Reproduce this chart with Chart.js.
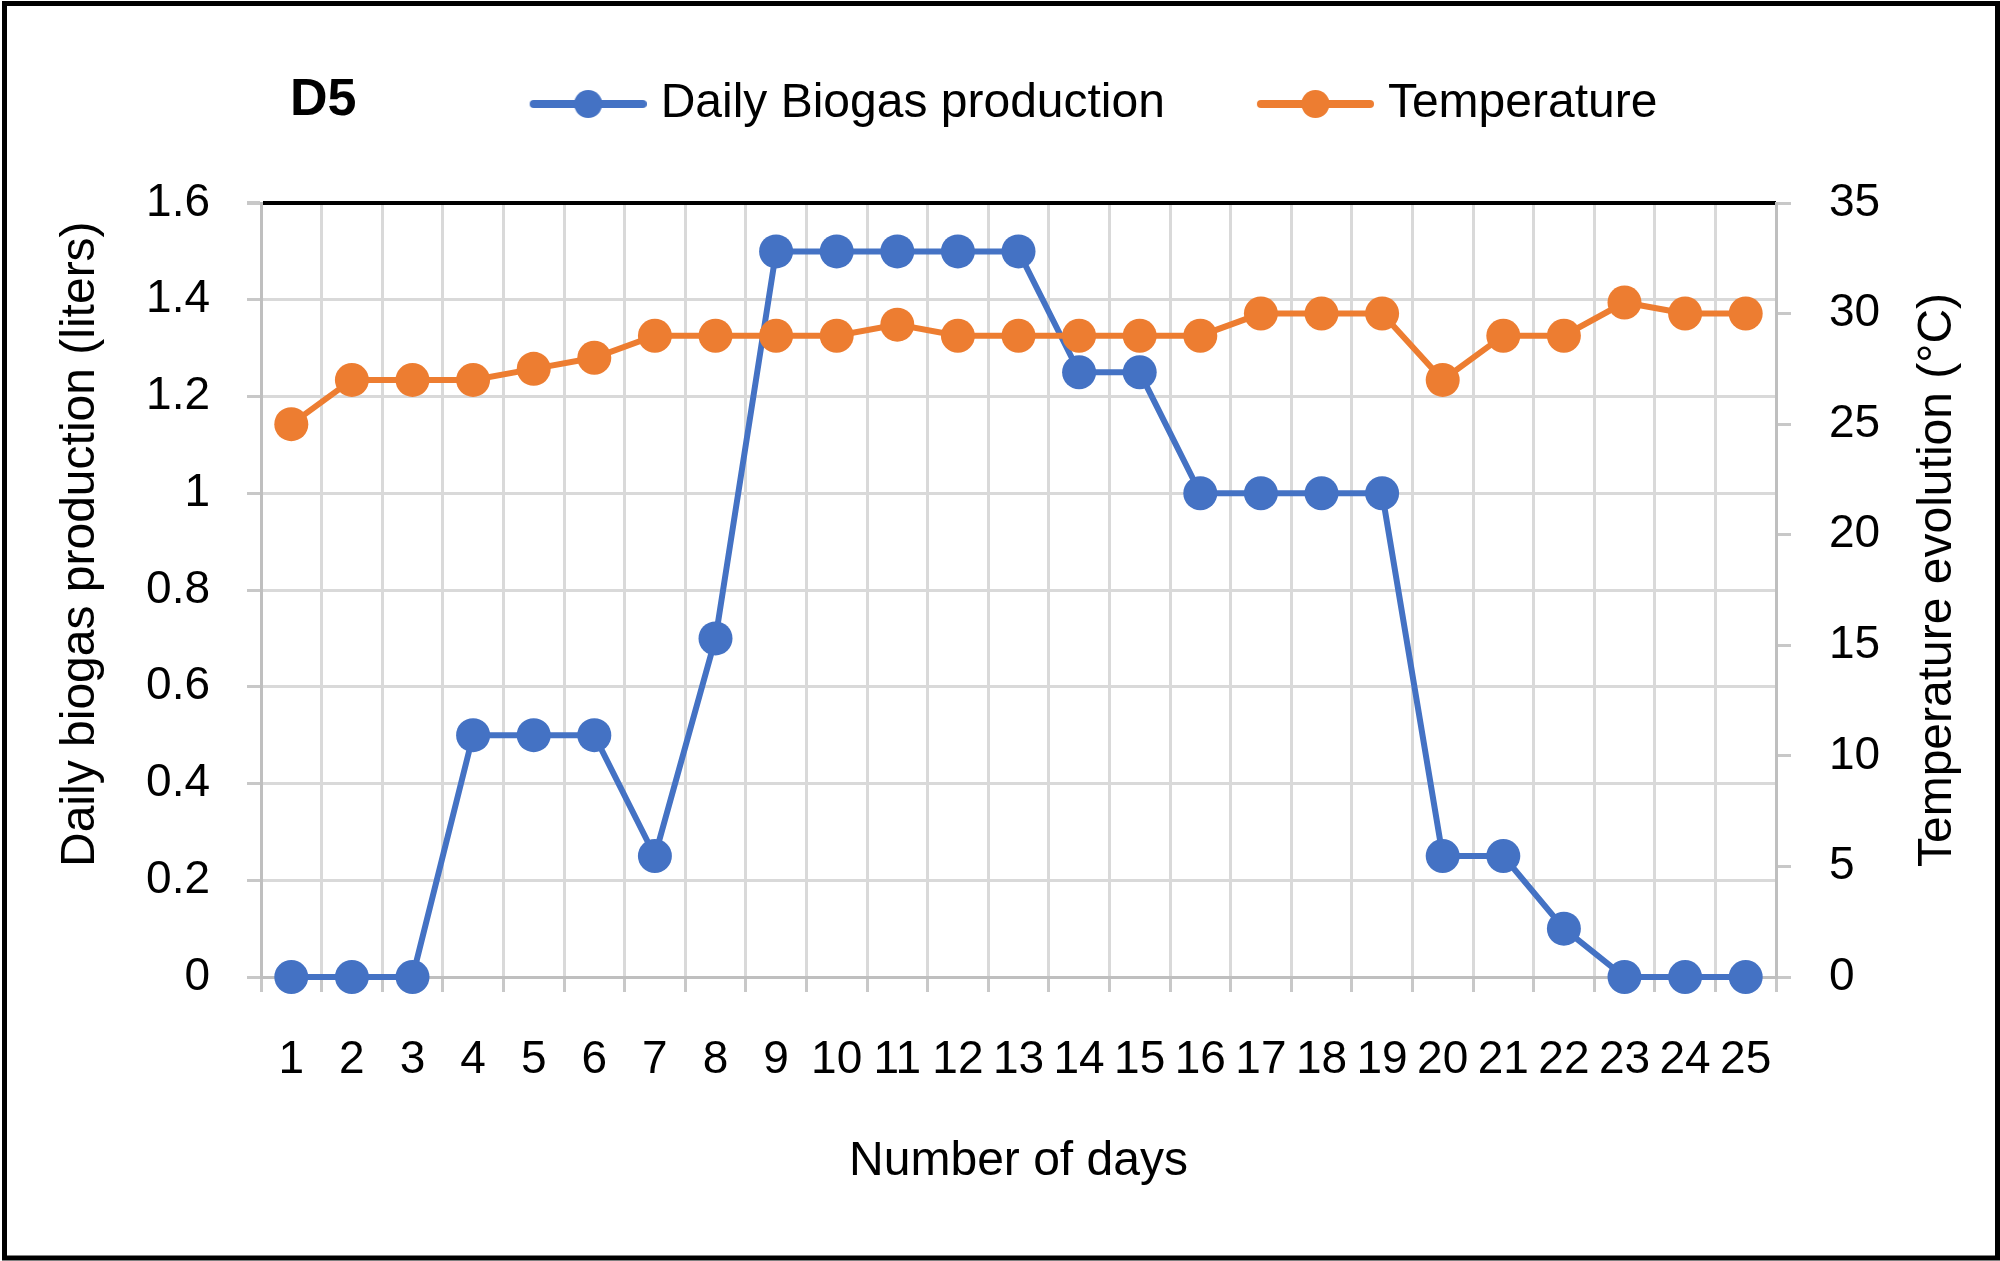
<!DOCTYPE html>
<html lang="en">
<head>
  <meta charset="UTF-8">
  <title>D5 - Daily biogas production and temperature</title>
  <script src="https://cdn.jsdelivr.net/npm/chart.js"></script>
  <style>
    html, body { margin: 0; padding: 0; background: #fff; }
    canvas { display: block; }
  </style>
</head>
<body>
  <canvas id="chart" width="2000" height="1261"></canvas>

  <script>
    // data
    const days = ['1','2','3','4','5','6','7','8','9','10','11','12','13','14','15','16','17','18','19','20','21','22','23','24','25'];
    const biogas = [0, 0, 0, 0.5, 0.5, 0.5, 0.25, 0.7, 1.5, 1.5, 1.5, 1.5, 1.5, 1.25, 1.25, 1, 1, 1, 1, 0.25, 0.25, 0.1, 0, 0, 0];
    const temperature = [25, 27, 27, 27, 27.5, 28, 29, 29, 29, 29, 29.5, 29, 29, 29, 29, 29, 30, 30, 30, 27, 29, 29, 30.5, 30, 30];
    const biogasTicks = [0, 0.2, 0.4, 0.6, 0.8, 1, 1.2, 1.4, 1.6];
    const tempTicks = [0, 5, 10, 15, 20, 25, 30, 35];

    const BLUE = '#4472C4';
    const ORANGE = '#ED7D31';
    const FONT = "'Liberation Sans', Arial, sans-serif";

    Chart.defaults.font.family = FONT;
    Chart.defaults.color = '#000';

    // line + dot swatch used in the legend (Excel style)
    function legendMark(color) {
      const c = document.createElement('canvas');
      c.width = 142;
      c.height = 40;
      const g = c.getContext('2d');
      g.strokeStyle = color;
      g.lineWidth = 8;
      g.lineCap = 'round';
      g.beginPath();
      g.moveTo(29, 20);
      g.lineTo(138, 20);
      g.stroke();
      g.fillStyle = color;
      g.beginPath();
      g.arc(83.5, 20, 14, 0, Math.PI * 2);
      g.fill();
      return c;
    }
    const marks = [legendMark(BLUE), legendMark(ORANGE)];

    // panel label, axis titles (both read bottom-to-top) and outer frame
    const frame = {
      id: 'frame',
      afterInit(chart) {
        const lg = chart.legend;
        const fit = lg.fit;
        lg.fit = function () {
          fit.call(this);
          this.height = 203;
        };
      },
      afterLayout(chart) {
        chart.legend.left += 172;
        chart.legend.top += 3;
      },
      afterDraw(chart) {
        const { ctx, chartArea } = chart;
        ctx.save();
        ctx.fillStyle = '#000';
        ctx.textBaseline = 'middle';
        ctx.textAlign = 'left';
        ctx.font = 'bold 52px ' + FONT;
        ctx.fillText('D5', 290, 101);

        ctx.font = '48px ' + FONT;
        [
          [chartArea.left - 180, 'Daily biogas production (liters)'],
          [chartArea.right + 162, 'Temperature evolution (°C)']
        ].forEach(([x, text]) => {
          ctx.save();
          ctx.translate(x, chartArea.bottom - 110);
          ctx.rotate(-Math.PI / 2);
          ctx.fillText(text, 0, 0);
          ctx.restore();
        });

        ctx.lineWidth = 5;
        ctx.strokeStyle = '#000';
        ctx.strokeRect(4.5, 3.5, 1993, 1254.5);
        ctx.restore();
      }
    };

    const isTop = c => c.tick && c.tick.value === biogasTicks[biogasTicks.length - 1];

    new Chart(document.getElementById('chart'), {
      type: 'line',
      data: {
        labels: days,
        datasets: [
          {
            label: 'Daily Biogas production',
            data: biogas,
            yAxisID: 'y',
            borderColor: BLUE,
            backgroundColor: BLUE,
            borderWidth: 6,
            pointRadius: 17,
            pointHoverRadius: 17,
            pointBorderWidth: 0,
            clip: false,
            order: 1
          },
          {
            label: 'Temperature',
            data: temperature,
            yAxisID: 'y1',
            borderColor: ORANGE,
            backgroundColor: ORANGE,
            borderWidth: 6,
            pointRadius: 17,
            pointHoverRadius: 17,
            pointBorderWidth: 0,
            clip: false,
            order: 0
          }
        ]
      },
      options: {
        responsive: false,
        animation: false,
        devicePixelRatio: 1,
        layout: { padding: 0 },
        plugins: {
          tooltip: { enabled: false },
          legend: {
            position: 'top',
            labels: {
              usePointStyle: true,
              pointStyleWidth: 122,
              padding: 77,
              color: '#000',
              font: { size: 48 },
              generateLabels: chart => chart.data.datasets.map((ds, i) => ({
                text: ds.label,
                datasetIndex: i,
                pointStyle: marks[i],
                fillStyle: ds.borderColor,
                strokeStyle: ds.borderColor,
                lineWidth: 0,
                hidden: false,
                fontColor: '#000'
              }))
            }
          }
        },
        scales: {
          x: {
            offset: true,
            grid: { offset: true, color: '#d9d9d9', lineWidth: 3, tickLength: 15, tickColor: '#c8c8c8' },
            border: { color: '#bfbfbf', width: 3 },
            ticks: { font: { size: 46 }, color: '#000', padding: 41, maxRotation: 0, minRotation: 0, autoSkip: false },
            title: { display: true, text: 'Number of days', font: { size: 48 }, color: '#000', padding: { top: 0, bottom: 70 } },
            afterFit: s => { s.height = 284; }
          },
          y: {
            position: 'left',
            min: 0,
            max: 1.6,
            afterBuildTicks: s => { s.ticks = biogasTicks.map(v => ({ value: v })); },
            grid: {
              color: c => isTop(c) ? '#000' : '#d9d9d9',
              lineWidth: c => isTop(c) ? 4 : 3,
              tickLength: 14,
              tickColor: '#c8c8c8'
            },
            border: { color: '#bfbfbf', width: 3 },
            ticks: { font: { size: 46 }, color: '#000', padding: 37, callback: v => String(v) },
            afterFit: s => { s.width = 261; }
          },
          y1: {
            position: 'right',
            min: 0,
            max: 35,
            afterBuildTicks: s => { s.ticks = tempTicks.map(v => ({ value: v })); },
            grid: { drawOnChartArea: false, tickLength: 15, color: '#c8c8c8', lineWidth: 3 },
            border: { color: '#bfbfbf', width: 3 },
            ticks: { font: { size: 46 }, color: '#000', padding: 38, callback: v => String(v) },
            afterFit: s => { s.width = 224; }
          }
        }
      },
      plugins: [frame]
    });
  </script>
</body>
</html>
